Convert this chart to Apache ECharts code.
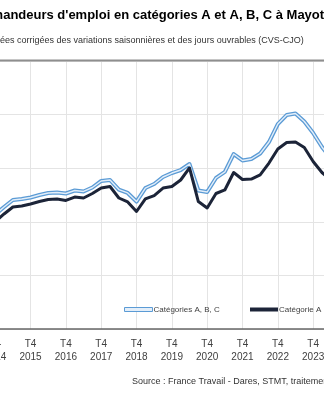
<!DOCTYPE html>
<html><head><meta charset="utf-8">
<script src="https://cdn.jsdelivr.net/npm/echarts@6/dist/echarts.min.js"></script>
<style>html,body{margin:0;padding:0;background:#fff}#c{width:324px;height:400px}</style>
</head><body><div id="c"></div>
<script>
const categories = ['T3 2014','T4 2014',
 'T1 2015','T2 2015','T3 2015','T4 2015',
 'T1 2016','T2 2016','T3 2016','T4 2016',
 'T1 2017','T2 2017','T3 2017','T4 2017',
 'T1 2018','T2 2018','T3 2018','T4 2018',
 'T1 2019','T2 2019','T3 2019','T4 2019',
 'T1 2020','T2 2020','T3 2020','T4 2020',
 'T1 2021','T2 2021','T3 2021','T4 2021',
 'T1 2022','T2 2022','T3 2022','T4 2022',
 'T1 2023','T2 2023','T3 2023','T4 2023',
 'T1 2024','T2 2024'];
const catABC = [10350,10680,
 11380,12030,12130,12270,
 12500,12690,12730,12640,
 12920,12830,13200,13810,
 13900,13010,12690,11890,
 13150,13530,14180,14550,
 14830,15390,12920,12780,
 14090,14650,16320,15720,
 15860,16370,17440,19120,
 19960,20100,19360,18280,
 16980,15950];
const catA = [9700,10030,
 10730,11380,11470,11660,
 11890,12080,12130,11990,
 12310,12220,12640,13150,
 13290,12220,11850,10960,
 12130,12450,13150,13290,
 13900,15020,11890,11290,
 12640,12970,14600,13950,
 13990,14370,15480,16790,
 17400,17440,16930,15620,
 14600,13900];
const yTicks = {min: 0, max: 25000, interval: 5000};
const titleText = "Demandeurs d'emploi en catégories A et A, B, C à Mayotte";
const subtitleText = "Données corrigées des variations saisonnières et des jours ouvrables (CVS-CJO)";
const sourceText = "Source : France Travail - Dares, STMT, traitements Dares.";
const nameABC = 'Catégories A, B, C';
const nameA = 'Catégorie A';

const chart = echarts.init(document.getElementById('c'), null, {renderer: 'canvas'});
const sans = '"Liberation Sans", Arial, sans-serif';
const isT4 = (i, v) => String(v).indexOf('T4') === 0;
chart.setOption({
  animation: false,
  backgroundColor: '#ffffff',
  title: [
    {text: titleText, left: -25, top: 8.5, padding: 0, textStyle: {fontFamily: sans, fontWeight: 'bold', fontSize: 13, color: '#000'}},
    {text: subtitleText, left: -21.5, top: 36.5, padding: 0, textStyle: {fontFamily: sans, fontWeight: 'normal', fontSize: 9, color: '#333'}},
    {text: sourceText, left: 132, top: 377.5, padding: 0, textStyle: {fontFamily: sans, fontWeight: 'normal', fontSize: 9, color: '#333'}}
  ],
  legend: [
    {left: 124, top: 305.5, padding: 0, itemWidth: 28, itemHeight: 4, itemGap: 0,
     textStyle: {fontFamily: sans, fontSize: 8, color: '#404040', padding: [0,0,0,-4]},
     data: [{name: nameABC, icon: 'rect', itemStyle: {color: '#e3eef9', borderColor: '#5b9bd5', borderWidth: 1}}]},
    {left: 250, top: 305.5, padding: 0, itemWidth: 28, itemHeight: 4, itemGap: 0,
     textStyle: {fontFamily: sans, fontSize: 8, color: '#404040', padding: [0,0,0,-4]},
     data: [{name: nameA, icon: 'rect', itemStyle: {color: '#1c2438', borderWidth: 0}}]}
  ],
  grid: {left: -13.6, right: -6.8, top: 61, bottom: 71, containLabel: false, outerBoundsMode: 'none'},
  xAxis: {
    type: 'category', data: categories, boundaryGap: false,
    axisLine: {show: true, lineStyle: {color: '#666', width: 1.5}},
    axisTick: {show: false},
    axisLabel: {interval: isT4, margin: 9, fontFamily: sans, fontSize: 10, lineHeight: 13, color: '#404040',
      hideOverlap: false, showMinLabel: true, showMaxLabel: true,
      formatter: v => v.replace(' ', '\n')},
    splitLine: {show: true, interval: isT4, lineStyle: {color: '#e4e4e4', width: 1}}
  },
  yAxis: {
    type: 'value', min: yTicks.min, max: yTicks.max, interval: yTicks.interval,
    axisLabel: {show: false}, axisLine: {show: false}, axisTick: {show: false},
    splitLine: {show: true, lineStyle: {color: '#e4e4e4', width: 1}}
  },
  graphic: [
    {type: 'line', shape: {x1: 0, y1: 60.5, x2: 324, y2: 60.5}, style: {stroke: '#8e8e8e', lineWidth: 2}, z: 10}
  ],
  series: [
    {name: nameABC, type: 'line', data: catABC, showSymbol: false, symbol: 'none',
     lineStyle: {color: '#5b9bd5', width: 4, join: 'round'}, z: 3},
    {name: nameABC + ' ', type: 'line', data: catABC, showSymbol: false, symbol: 'none', silent: true,
     lineStyle: {color: '#e3eef9', width: 1.4, join: 'round'}, z: 4},
    {name: nameA, type: 'line', data: catA, showSymbol: false, symbol: 'none',
     lineStyle: {color: '#1c2438', width: 3, join: 'round'}, z: 5}
  ]
});
</script></body></html>
